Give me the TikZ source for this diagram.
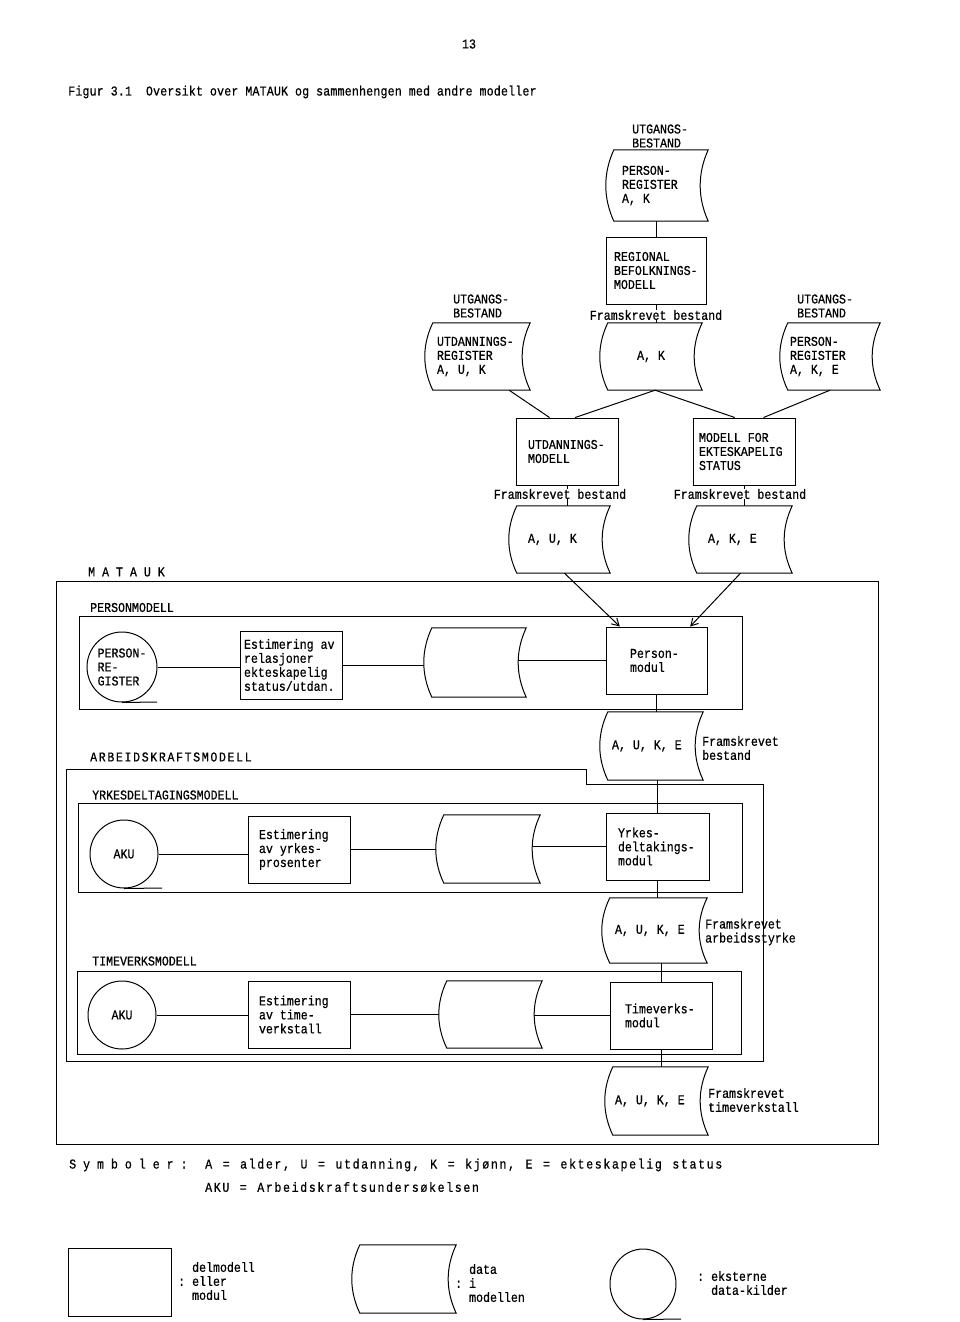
\documentclass[tikz,border=0pt]{standalone}
\usepackage{fontspec}
\setmainfont{Liberation Mono}[FakeStretch=0.86,FakeBold=0.6]
\newfontfamily\widefont{Liberation Mono}[FakeStretch=0.86,FakeBold=0.6,LetterSpace=12]
\newfontfamily\titlefont{Liberation Mono}[FakeStretch=0.86,FakeBold=0.6,LetterSpace=1.4]
\usetikzlibrary{calc,arrows.meta,shapes.geometric}
\newcommand\dataoutline[1]{%
 \draw[ln] ($(#1.north west)+(8,0)$) -- (#1.north east)
   .. controls ($(#1.north east)!0.333!(#1.south east)+(-10.7,0)$) and ($(#1.north east)!0.667!(#1.south east)+(-10.7,0)$) .. (#1.south east)
   -- ($(#1.south west)+(8,0)$)
   .. controls ($(#1.south west)!0.333!(#1.north west)+(-2.7,0)$) and ($(#1.south west)!0.667!(#1.north west)+(-2.7,0)$) .. ($(#1.north west)+(8,0)$) -- cycle;}
\begin{document}
\begin{tikzpicture}[x=1pt,y=-1pt,
  every node/.style={font=\fontsize{13.5}{14}\selectfont, inner sep=0pt,
    execute at begin node={\spaceskip=6.96pt\relax\xspaceskip=6.96pt\relax}},
  ln/.style={line width=1pt},
  box/.style={draw, line width=1pt, align=left},
  dat/.style={align=left},
  lbl/.style={anchor=west, align=left},
  wide/.style={font={\widefont\fontsize{13.5}{14}\selectfont},
    execute at begin node={\spaceskip=10.5pt\relax\xspaceskip=10.5pt\relax}},
  src/.style={draw, circle, line width=1pt, align=left},
  frame/.style={line width=1pt},
  arr/.style={line width=1pt, -{Straight Barb[length=7pt,width=8pt]}},
]
\fill[white] (0,0) rectangle (960,1322);
\useasboundingbox (0,0) rectangle (960,1322);

\node (pg) at (469,44) {13};
\node[lbl, font={\titlefont\fontsize{13.5}{14}\selectfont}] (title) at (68,92) {Figur 3.1~~Oversikt over MATAUK og sammenhengen med andre modeller};

% ---------- top ----------
\node[lbl] (ub1) at (632,136) {UTGANGS-\\BESTAND};
\node[dat, minimum width=102, minimum height=71, text width=70pt, inner xsep=16pt] (d0) at (657,185.5) {PERSON-\\REGISTER\\A, K};
\node[box, minimum width=100, minimum height=67, text width=84pt, inner xsep=8pt] (reg) at (656,270.5) {REGIONAL\\BEFOLKNINGS-\\MODELL};
\node (fb0) at (656,315) {Framskrevet bestand};
\node[minimum width=102, minimum height=67] (dAK) at (651,356.5) {A, K};
\node[lbl] (ub2) at (453,306) {UTGANGS-\\BESTAND};
\node[dat, minimum width=105, minimum height=67, text width=81pt, inner xsep=12pt] (dUR) at (477.5,356.5) {UTDANNINGS-\\REGISTER\\A, U, K};
\node[lbl] (ub3) at (797,306) {UTGANGS-\\BESTAND};
\node[dat, minimum width=100, minimum height=67, text width=80pt, inner xsep=10pt] (dPR) at (830,356.5) {PERSON-\\REGISTER\\A, K, E};

% ---------- middle models ----------
\node[box, minimum width=102, minimum height=67, text width=78pt, inner xsep=12pt] (um) at (567,451.5) {UTDANNINGS-\\MODELL};
\node[box, minimum width=102, minimum height=67, text width=90pt, inner xsep=6pt] (mfe) at (744,451.5) {MODELL FOR\\EKTESKAPELIG\\STATUS};
\node (fb1) at (560,494) {Framskrevet bestand};
\node (fb2) at (740,494) {Framskrevet bestand};
\node[dat, minimum width=101, minimum height=67, text width=63pt, inner xsep=19pt] (dAUK) at (559.5,539.5) {A, U, K};
\node[dat, minimum width=103, minimum height=67, text width=65pt, inner xsep=19pt] (dAKE) at (740.5,539.5) {A, K, E};

% ---------- MATAUK ----------
\node[lbl] (mat) at (88,572) {M A T A U K};
\draw[frame] (56,581) rectangle (878,1144);

% PERSONMODELL
\node[lbl] (pml) at (90,607.5) {PERSONMODELL};
\draw[frame] (79,616) rectangle (742,709);
\node[src, minimum size=70] (c1) at (122,667) {PERSON-\\RE-\\GISTER};
\coordinate (t1) at (157,702);
\node[box, minimum width=102, minimum height=68, text width=94pt, inner xsep=4pt] (est1) at (291,665) {Estimering av\\relasjoner\\ekteskapelig\\status/utdan.};
\node[minimum width=102, minimum height=69] (dP) at (475,662.5) {};
\node[box, minimum width=101, minimum height=67, text width=53pt, inner xsep=24pt] (pm) at (656.5,660.5) {Person-\\modul};
\node[dat, minimum width=103, minimum height=68, text width=79pt, inner xsep=12pt] (dAUKE1) at (651.5,746) {A, U, K, E};
\node[lbl] (fb3) at (702,748) {Framskrevet\\bestand};

% ARBEIDSKRAFTSMODELL
\node[lbl, wide] (akl) at (90,757) {ARBEIDSKRAFTSMODELL};
\draw[frame] (66,769) -- (586,769) -- (586,784) -- (763,784) -- (763,1061) -- (66,1061) -- cycle;

% YRKESDELTAGINGSMODELL
\node[lbl] (yml) at (92,795) {YRKESDELTAGINGSMODELL};
\draw[frame] (78,803) rectangle (742,892);
\node[src, minimum size=68] (c2) at (124,854) {AKU};
\coordinate (t2) at (162,888);
\node[box, minimum width=102, minimum height=67, text width=80pt, inner xsep=11pt] (est2) at (299,849.5) {Estimering\\av yrkes-\\prosenter};
\node[minimum width=104, minimum height=68] (dY) at (488,849) {};
\node[box, minimum width=103, minimum height=67, text width=79pt, inner xsep=12pt] (ym) at (657.5,846.5) {Yrkes-\\deltakings-\\modul};
\node[dat, minimum width=105, minimum height=65, text width=79pt, inner xsep=13pt] (dAUKE2) at (654.5,930.5) {A, U, K, E};
\node[lbl] (fb4) at (705,932) {Framskrevet\\arbeidsstyrke};

% TIMEVERKSMODELL
\node[lbl] (tml) at (92,961) {TIMEVERKSMODELL};
\draw[frame] (77,971) rectangle (741,1054);
\node[src, minimum size=68] (c3) at (122,1015) {AKU};
\node[box, minimum width=102, minimum height=67, text width=80pt, inner xsep=11pt] (est3) at (299,1014.5) {Estimering\\av time-\\verkstall};
\node[minimum width=103, minimum height=67] (dT) at (490.5,1014.5) {};
\node[box, minimum width=102, minimum height=67, text width=72pt, inner xsep=15pt] (tm) at (661,1015.5) {Timeverks-\\modul};
\node[dat, minimum width=103, minimum height=68, text width=83pt, inner xsep=10pt] (dAUKE3) at (656.5,1101) {A, U, K, E};
\node[lbl] (fb5) at (708,1100) {Framskrevet\\timeverkstall};

% ---------- legend ----------
\node[lbl] (sym) at (69,1165) {S y m b o l e r :};
\node[lbl, wide] (leg1) at (205,1165) {A = alder, U = utdanning, K = kjønn, E = ekteskapelig status};
\node[lbl, wide] (leg2) at (205,1187) {AKU = Arbeidskraftsundersøkelsen};
\node[draw, line width=1pt, minimum width=103, minimum height=68] (lr) at (119.5,1282) {};
\node[lbl] (lrt) at (178,1281) {\phantom{: }delmodell\\: eller\\\phantom{: }modul};
\node[minimum width=104, minimum height=68] (dl) at (404,1279) {};
\node[lbl] (dlt) at (455,1283) {\phantom{: }data\\: i\\\phantom{: }modellen};
\node[draw, line width=1pt, ellipse, minimum width=66, minimum height=70] (lc) at (643,1284) {};
\coordinate (t4) at (681,1319);
\node[lbl] (lct) at (697,1283) {: eksterne\\\phantom{: }data-kilder};

% data outlines
\foreach \n in {d0,dAK,dUR,dPR,dAUK,dAKE,dP,dAUKE1,dY,dAUKE2,dT,dAUKE3,dl} {\dataoutline{\n}}

% ---------- connectors ----------
\draw[ln] (reg.north) -- (reg.north |- d0.south);
\draw[ln] (reg.south) -- (reg.south |- fb0.north);
\draw[ln] (reg.south |- fb0.south) -- (reg.south |- dAK.north);
\draw[ln] ($(dUR.south west)!0.8!(dUR.south east)$) -- ($(um.north west)!0.33!(um.north east)$);
\draw[ln] ($(dAK.south west)!0.54!(dAK.south east)$) -- ($(um.north west)!0.58!(um.north east)$);
\draw[ln] ($(dAK.south west)!0.54!(dAK.south east)$) -- ($(mfe.north west)!0.41!(mfe.north east)$);
\draw[ln] (dPR.south) -- ($(mfe.north west)!0.69!(mfe.north east)$);
\draw[ln] (um.south) -- (um.south |- fb1.north);
\draw[ln] (um.south |- fb1.south) -- (um.south |- dAUK.north);
\draw[ln] (mfe.south) -- (mfe.south |- fb2.north);
\draw[ln] (mfe.south |- fb2.south) -- (mfe.south |- dAKE.north);
\draw[arr] ($(dAUK.south)+(5,0)$) -- ($(pm.north west)!0.14!(pm.north east)$);
\draw[arr] (dAKE.south) -- ($(pm.north west)!0.83!(pm.north east)$);
\draw[ln] (c1.south) -- (t1);
\draw[ln] (c1.east) -- (c1.east -| est1.west);
\draw[ln] (est1.east) -- (est1.east -| dP.west);
\draw[ln] (pm.west) -- ($(pm.west -| dP.east)+(-8,0)$);
\draw[ln] (pm.south) -- (pm.south |- dAUKE1.north);
\draw[ln] (ym.north) -- (ym.north |- dAUKE1.south);
\draw[ln] (c2.south) -- (t2);
\draw[ln] (c2.east) -- (c2.east -| est2.west);
\draw[ln] (est2.east) -- (est2.east -| dY.west);
\draw[ln] (ym.west) -- ($(ym.west -| dY.east)+(-8,0)$);
\draw[ln] (ym.south) -- (ym.south |- dAUKE2.north);
\draw[ln] (tm.north) -- (tm.north |- dAUKE2.south);
\draw[ln] (c3.east) -- (c3.east -| est3.west);
\draw[ln] (est3.east) -- (est3.east -| dT.west);
\draw[ln] (tm.west) -- ($(tm.west -| dT.east)+(-8,0)$);
\draw[ln] (tm.south) -- (tm.south |- dAUKE3.north);
\draw[ln] (lc.south) -- (t4);
\end{tikzpicture}
\end{document}
